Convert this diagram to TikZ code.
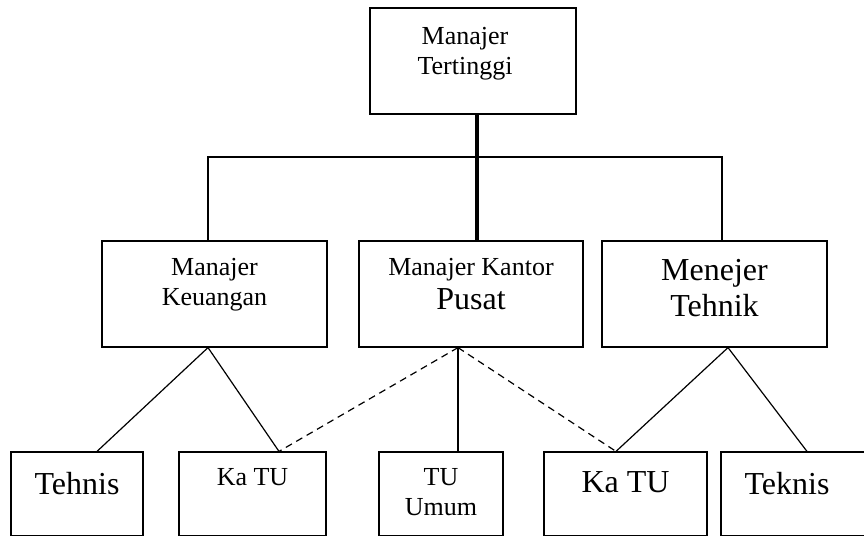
\documentclass[tikz,border=0pt]{standalone}
\usepackage{fontspec}
\setmainfont{Liberation Serif}
\usetikzlibrary{positioning}
\newcommand{\smalltxt}{\fontsize{13}{15}\selectfont}
\newcommand{\bigtxt}{\fontsize{16}{17.8}\selectfont}
\tikzset{
  unit/.style={draw, line width=0.6pt, inner sep=0pt},
  txt/.style={anchor=north, inner sep=0pt, align=center, font=\smalltxt},
  link/.style={line width=0.6pt},
  dotlink/.style={line width=0.6pt, dash pattern=on 3.5pt off 2.5pt}
}

\begin{document}
\begin{tikzpicture}[x=0.5pt, y=-0.5pt]
    \useasboundingbox (0, 0) rectangle (864, 536);
    % boxes
    \node[unit, minimum width=103pt, minimum height=53pt] (top) at (473, 61) {};
    \node[unit, minimum width=112.5pt, minimum height=53pt] (keu) at (214.5, 294) {};
    \node[unit, minimum width=112pt, minimum height=53pt] (kan) at (471, 294) {};
    \node[unit, minimum width=112.5pt, minimum height=53pt] (tek) at (714.5, 294) {};
    \node[unit, minimum width=66pt, minimum height=42pt] (teh) at (77, 494) {};
    \node[unit, minimum width=73.5pt, minimum height=42pt] (katu1) at (252.5, 494) {};
    \node[unit, minimum width=62pt, minimum height=42pt] (tuu) at (441, 494) {};
    \node[unit, minimum width=81.5pt, minimum height=42pt] (katu2) at (625.5, 494) {};
    \node[unit, minimum width=79.5pt, minimum height=42pt] (tekn) at (800.5, 494) {};
    % texts
    \node[txt, below=9.5pt of top.north, xshift=-4pt] (top-t) {Manajer\\Tertinggi};
    \node[txt, below=8.5pt of keu.north] (keu-t) {Manajer\\Keuangan};
    \node[txt, below=8.5pt of kan.north] (kan-t) {Manajer Kantor\\[2pt]{\bigtxt Pusat}};
    \node[txt, below=9.5pt of tek.north, font=\bigtxt] (tek-t) {Menejer\\Tehnik};
    \node[txt, below=10pt of teh.north, font=\bigtxt] (teh-t) {Tehnis};
    \node[txt, below=8.5pt of katu1.north] (katu1-t) {Ka TU};
    \node[txt, below=8.5pt of tuu.north] (tuu-t) {TU\\Umum};
    \node[txt, below=10pt of katu2.north, font=\bigtxt] (katu2-t) {Ka TU};
    \node[txt, below=10pt of tekn.north, font=\bigtxt, xshift=-6.75pt] (tekn-t) {Teknis};
    % lines
    \coordinate (bus) at (473, 157);
    \draw[line width=1.6pt] ([xshift=2pt]top.south) -- ([xshift=3pt]kan.north);
    \draw[link] ([xshift=-3.25pt]keu.north) |- (bus) -| ([xshift=3.75pt]tek.north);
    \path[link]
    ([xshift=-3.25pt]keu.south) edge ([xshift=10pt]teh.north)
    ([xshift=-3.25pt]keu.south) edge ([xshift=13.25pt]katu1.north)
    ([xshift=-6.5pt]kan.south) edge ([xshift=8.5pt]tuu.north)
    ([xshift=6.75pt]tek.south) edge ([xshift=-4.75pt]katu2.north)
    ([xshift=6.75pt]tek.south) edge ([xshift=3.25pt]tekn.north);
    \path[dotlink]
    ([xshift=-6.5pt]kan.south) edge ([xshift=13.25pt]katu1.north)
    ([xshift=-6.5pt]kan.south) edge ([xshift=-4.75pt]katu2.north);
\end{tikzpicture}
\end{document}
